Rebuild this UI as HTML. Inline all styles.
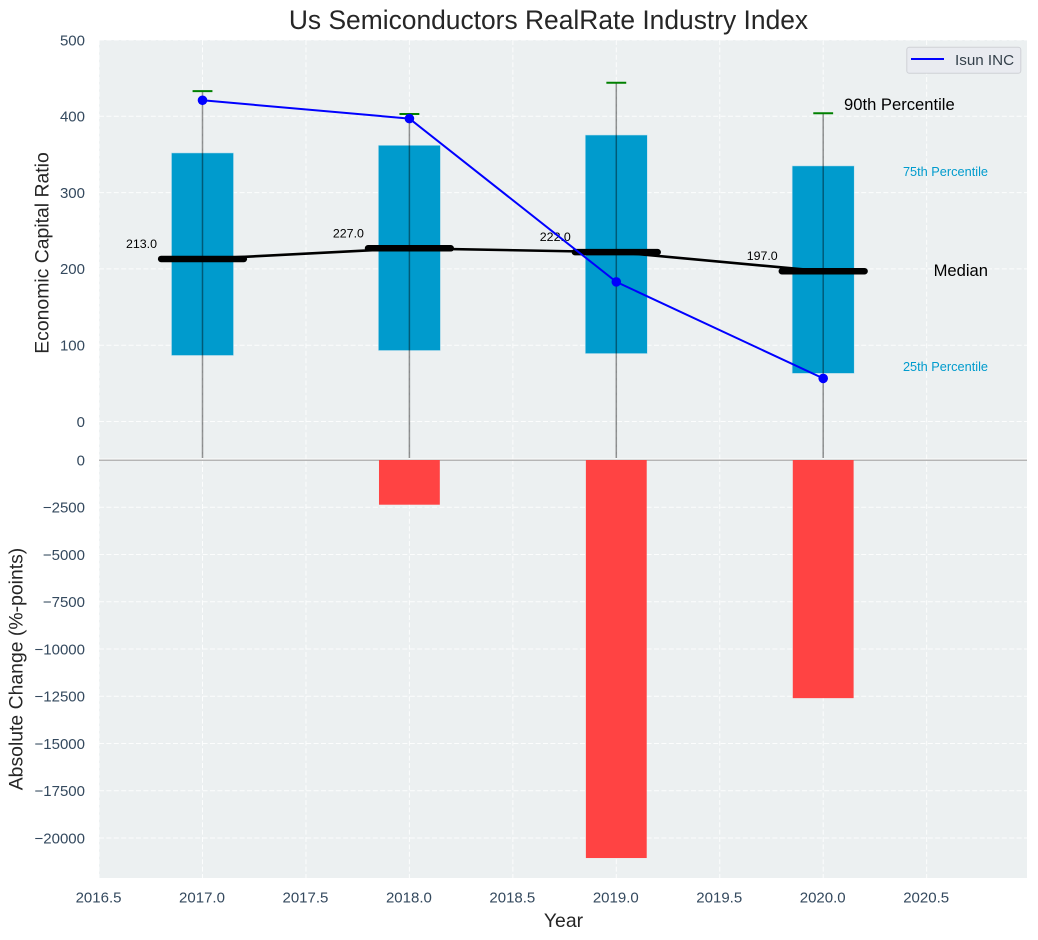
<!DOCTYPE html>
<html lang="en">
<head>
<meta charset="utf-8">
<title>Us Semiconductors RealRate Industry Index</title>
<style>
html,body{margin:0;padding:0;background:#fff;}
svg{display:block;font-family:"Liberation Sans",Arial,sans-serif;}
</style>
</head>
<body>
<svg id="chart" xmlns="http://www.w3.org/2000/svg" width="1038" height="940" viewBox="0 0 1038 940">
  <rect x="0" y="0" width="1038" height="940" fill="#ffffff"/>
  <rect x="99" y="40" width="928" height="418.6" fill="#ecf0f1"/>
  <rect x="99" y="459.6" width="928" height="418.4" fill="#ecf0f1"/>
  <g id="grid"></g>
  <g id="marks"></g>
  <g id="ticks"></g>
  <text x="548.5" y="29" font-size="26.4" text-anchor="middle" fill="#262626">Us Semiconductors RealRate Industry Index</text>
  <text transform="translate(48.5,253) rotate(-90)" font-size="19.4" text-anchor="middle" fill="#262626">Economic Capital Ratio</text>
  <text transform="translate(22.5,669) rotate(-90)" font-size="19.4" text-anchor="middle" fill="#262626">Absolute Change (%-points)</text>
  <text x="563.5" y="927" font-size="19.4" text-anchor="middle" fill="#262626">Year</text>
  <text x="844" y="110" font-size="16.6" fill="#000000">90th Percentile</text>
  <text x="988" y="176" font-size="12.75" text-anchor="end" fill="#009bcd">75th Percentile</text>
  <text x="988" y="276" font-size="16.6" text-anchor="end" fill="#000000">Median</text>
  <text x="988" y="371" font-size="12.75" text-anchor="end" fill="#009bcd">25th Percentile</text>
  <g>
    <rect x="906.8" y="47.3" width="114" height="26" rx="2.5" fill="#e9ebf0" stroke="#cfd1d6" stroke-width="1"/>
    <line x1="911" y1="59" x2="944" y2="59" stroke="#0000ff" stroke-width="2"/>
    <text x="955" y="65" font-size="15.2" fill="#34404a">Isun INC</text>
  </g>
</svg>
<script>
var years = [2017, 2018, 2019, 2020];
var p25 = [86.5, 93, 89, 63];
var p75 = [352, 362, 375.5, 335];
var p90 = [433, 403, 444, 404];
var whiskerLow = [-50, -50, -50, -50];
var medians = [213, 227, 222, 197];
var company = [421, 397, 183, 56.5];
var changes = [0, -2365, -21060, -12600];
var xTicks = [2016.5, 2017, 2017.5, 2018, 2018.5, 2019, 2019.5, 2020, 2020.5];
var upperTicks = [0, 100, 200, 300, 400, 500];
var lowerTicks = [0, -2500, -5000, -7500, -10000, -12500, -15000, -17500, -20000];

var NS = 'http://www.w3.org/2000/svg';
var gridG = document.getElementById('grid');
var marksG = document.getElementById('marks');
var ticksG = document.getElementById('ticks');
var gridStroke = 'rgba(255,255,255,0.85)';

function xs(v) { return 202.5 + (v - 2017) * 206.9; }
function yu(v) { return 421.5 - v * 0.763; }
function yl(v) { return 460 - v * 0.0189; }

function make(tag, parent, props) {
  var el = document.createElementNS(NS, tag);
  for (var k in props) { el.setAttribute(k, props[k]); }
  parent.appendChild(el);
  return el;
}

xTicks.forEach(function (t) {
  var a = make('line', gridG, {x1: xs(t), x2: xs(t), y1: 40, y2: 458.6, stroke: gridStroke, 'stroke-width': 1, 'stroke-dasharray': '5 2.4'});
  
  
  var b = make('line', gridG, {x1: xs(t), x2: xs(t), y1: 459.6, y2: 878, stroke: gridStroke, 'stroke-width': 1, 'stroke-dasharray': '5 2.4'});
  
  
  var l = make('text', ticksG, {x: xs(t) - 0.5, y: 902.5, 'font-size': 15, 'text-anchor': 'middle', fill: '#34495e'});
  l.textContent = t.toFixed(1);
  
  
});

upperTicks.forEach(function (t) {
  var g = make('line', gridG, {x1: 99, x2: 1027, y1: yu(t), y2: yu(t), stroke: gridStroke, 'stroke-width': 1, 'stroke-dasharray': '5 2.4'});
  
  
  var l = make('text', ticksG, {x: 85, y: yu(t) + 5.3, 'font-size': 15, 'text-anchor': 'end', fill: '#34495e'});
  l.textContent = String(t);
  
  
});

lowerTicks.forEach(function (t) {
  var g = make('line', gridG, {x1: 99, x2: 1027, y1: yl(t), y2: yl(t), stroke: gridStroke, 'stroke-width': 1, 'stroke-dasharray': '5 2.4'});
  
  
  var l = make('text', ticksG, {x: 85, y: yl(t) + 5.3, 'font-size': 15, 'text-anchor': 'end', fill: '#34495e'});
  l.textContent = String(t).replace('-', '\u2212');
  
  
});

var zero = make('line', marksG, {x1: 99, x2: 1027, y1: yl(0) + 0.3, y2: yl(0) + 0.3, stroke: '#b5b5b5', 'stroke-width': 1.5});



years.forEach(function (yr, i) {
  var top = yu(p75[i]);
  var box = make('rect', marksG, {x: xs(yr - 0.15), y: top, width: xs(yr + 0.15) - xs(yr - 0.15), height: yu(p25[i]) - top, fill: '#009bcd', stroke: '#c4e2ee', 'stroke-width': 0.6});
  
  
});

years.forEach(function (yr, i) {
  var h = -changes[i] * 0.0189;
  if (h > 0) {
    var bar = make('rect', marksG, {x: xs(yr - 0.147), y: yl(0), width: xs(yr + 0.147) - xs(yr - 0.147), height: h, fill: '#ff3f3f', 'fill-opacity': 0.98});
    
    
  }
});

years.forEach(function (yr, i) {
  var w = make('line', marksG, {x1: xs(yr), x2: xs(yr), y1: yu(p90[i]), y2: Math.min(yu(whiskerLow[i]), 458), stroke: 'rgba(0,0,0,0.42)', 'stroke-width': 1.5});
  
  
  var c = make('line', marksG, {x1: xs(yr - 0.048), x2: xs(yr + 0.048), y1: yu(p90[i]), y2: yu(p90[i]), stroke: '#008000', 'stroke-width': 2});
  
  
});

var medianPts = years.map(function (yr, i) { return xs(yr) + ',' + yu(medians[i]); }).join(' ');
var medianLine = make('polyline', marksG, {points: medianPts, fill: 'none', stroke: '#000000', 'stroke-width': 2.6, 'stroke-linejoin': 'round'});



years.forEach(function (yr, i) {
  var m = make('line', marksG, {x1: xs(yr - 0.2), x2: xs(yr + 0.2), y1: yu(medians[i]), y2: yu(medians[i]), stroke: '#000000', 'stroke-width': 6.5, 'stroke-linecap': 'round'});
  
  
  var t = make('text', marksG, {x: xs(yr) - 61, y: yu(medians[i]) - 11, 'font-size': 12.4, 'text-anchor': 'middle', fill: '#000000'});
  t.textContent = medians[i].toFixed(1);
  
  
});

var companyPts = years.map(function (yr, i) { return xs(yr) + ',' + yu(company[i]); }).join(' ');
var companyLine = make('polyline', marksG, {points: companyPts, fill: 'none', stroke: '#0000ff', 'stroke-width': 2, 'stroke-linejoin': 'round'});



years.forEach(function (yr, i) {
  var p = make('circle', marksG, {cx: xs(yr), cy: yu(company[i]), r: 4.8, fill: '#0000ff'});
  
  
});
</script>
</body>
</html>
